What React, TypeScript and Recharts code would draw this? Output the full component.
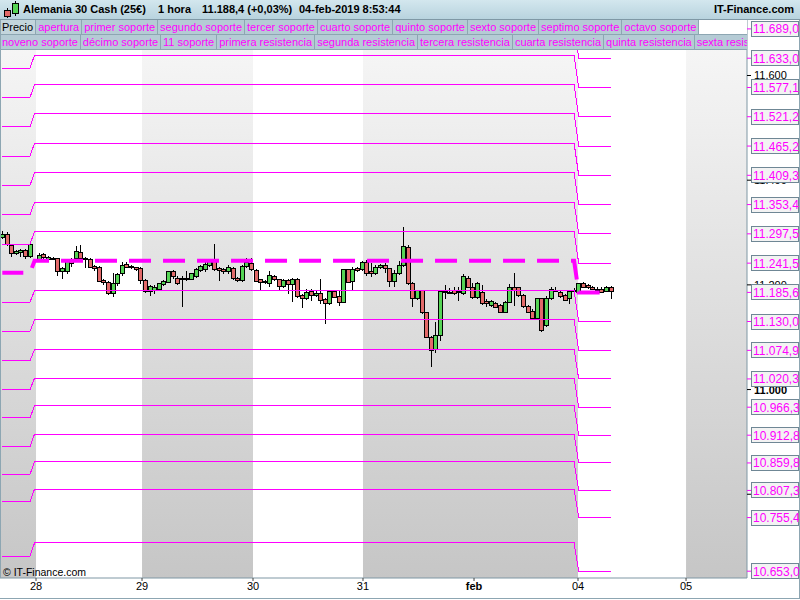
import React from 'react';
import { ComposedChart, Bar, Line, XAxis, YAxis, ReferenceArea } from 'recharts';

// ---- hourly candles (slot index = position on the time axis; slot 7 is the weekend gap)
const openP: (number | null)[] = [
  11291, 11298, 11277, 11260, 11263, 11266, 11255,
  null,
  11249, 11259, 11250, 11252, 11251, 11227, 11226, 11249, 11251, 11263,
  11252, 11249, 11236, 11235, 11209, 11206, 11185, 11204, 11222, 11239,
  11234, 11234, 11232, 11209, 11188, 11190, 11193, 11202, 11206, 11226,
  11214, 11214, 11211, 11212, 11217, 11228, 11230, 11238, 11246, 11232,
  11230, 11226, 11232, 11214, 11209, 11236, 11241, 11228, 11211, 11207,
  11204, 11217, 11211, 11198, 11209, 11201, 11212, 11181, 11174, 11188,
  11181, 11184, 11173, 11165, 11189, 11179, 11168, 11230, 11208, 11233,
  11230, 11244, 11226, 11222, 11234, 11237, 11232, 11208, 11222, 11238,
  11273, 11203, 11174, 11190, 11148, 11101, 11077, 11104, 11186, 11186,
  11190, 11188, 11184, 11214, 11196, 11176, 11187, 11170, 11162, 11165,
  11162, 11149, 11168, 11196, 11195, 11181, 11160, 11150, 11136, 11174,
  11123, 11174, 11191, 11187, 11181, 11174, 11189, 11187, 11203, 11200,
  11196, 11193, 11193, 11189, 11196,
];
const highP: (number | null)[] = [
  11302, 11301, 11279, 11267, 11269, 11268, 11280,
  null,
  11260, 11261, 11255, 11254, 11252, 11234, 11249, 11251, 11274, 11276,
  11253, 11251, 11237, 11236, 11211, 11207, 11223, 11223, 11244, 11244,
  11238, 11235, 11235, 11211, 11200, 11200, 11204, 11209, 11227, 11228,
  11216, 11216, 11226, 11223, 11232, 11238, 11247, 11249, 11278, 11234,
  11232, 11237, 11234, 11215, 11237, 11252, 11251, 11230, 11212, 11209,
  11227, 11218, 11212, 11211, 11211, 11214, 11214, 11182, 11192, 11193,
  11191, 11212, 11174, 11191, 11191, 11190, 11231, 11231, 11235, 11235,
  11245, 11247, 11241, 11237, 11239, 11241, 11233, 11228, 11246, 11310,
  11276, 11206, 11191, 11191, 11149, 11102, 11130, 11191, 11200, 11194,
  11195, 11196, 11221, 11216, 11203, 11206, 11200, 11173, 11171, 11167,
  11163, 11170, 11202, 11222, 11196, 11182, 11161, 11154, 11175, 11175,
  11179, 11196, 11195, 11189, 11183, 11191, 11194, 11204, 11205, 11202,
  11198, 11195, 11195, 11198, 11198,
];
const lowP: (number | null)[] = [
  11289, 11276, 11255, 11259, 11255, 11252, 11254,
  null,
  11247, 11251, 11249, 11249, 11219, 11214, 11222, 11236, 11249, 11249,
  11235, 11234, 11228, 11207, 11202, 11183, 11179, 11200, 11219, 11234,
  11232, 11228, 11203, 11186, 11181, 11184, 11192, 11200, 11205, 11213,
  11202, 11160, 11209, 11211, 11215, 11226, 11227, 11236, 11228, 11209,
  11223, 11223, 11211, 11207, 11207, 11234, 11228, 11207, 11190, 11203,
  11198, 11209, 11193, 11196, 11184, 11170, 11177, 11157, 11173, 11171,
  11179, 11165, 11128, 11163, 11176, 11162, 11167, 11205, 11193, 11226,
  11228, 11219, 11217, 11221, 11232, 11225, 11198, 11198, 11221, 11236,
  11202, 11160, 11173, 11146, 11100, 11045, 11072, 11095, 11174, 11184,
  11183, 11172, 11183, 11195, 11174, 11175, 11163, 11160, 11160, 11157,
  11148, 11148, 11167, 11162, 11179, 11158, 11148, 11135, 11135, 11112,
  11121, 11173, 11188, 11177, 11171, 11165, 11188, 11186, 11195, 11194,
  11192, 11192, 11186, 11188, 11174,
];
const closeP: (number | null)[] = [
  11298, 11278, 11260, 11265, 11267, 11255, 11279,
  null,
  11257, 11254, 11254, 11251, 11226, 11232, 11247, 11242, 11265, 11251,
  11249, 11235, 11232, 11208, 11205, 11185, 11204, 11221, 11238, 11235,
  11236, 11230, 11209, 11188, 11198, 11196, 11203, 11207, 11226, 11216,
  11203, 11211, 11214, 11222, 11230, 11236, 11239, 11246, 11230, 11228,
  11226, 11235, 11213, 11209, 11236, 11244, 11230, 11208, 11206, 11206,
  11219, 11211, 11198, 11209, 11201, 11212, 11179, 11175, 11187, 11180,
  11185, 11172, 11165, 11189, 11177, 11167, 11230, 11206, 11230, 11228,
  11244, 11223, 11222, 11235, 11237, 11232, 11208, 11222, 11238, 11274,
  11203, 11174, 11190, 11148, 11101, 11076, 11104, 11188, 11188, 11187,
  11185, 11186, 11216, 11196, 11176, 11204, 11165, 11165, 11169, 11158,
  11149, 11168, 11196, 11191, 11181, 11160, 11149, 11136, 11174, 11114,
  11174, 11193, 11189, 11179, 11172, 11189, 11191, 11203, 11196, 11195,
  11193, 11193, 11187, 11196, 11188.4,
];

// ---- weekly pivot levels (order: 9th..1st resistance, opening, supports)
const levelKeys = ['r9', 'r8', 'r7', 'r6', 'r5', 'r4', 'r3', 'r2', 'r1', 'ap', 's1', 's2', 's3', 's4', 's5', 's6', 's7', 's8', 's10'];
const weekLevels1 = [11726, 11670, 11614, 11558, 11502, 11446, 11390, 11334, 11278, 11223, 11167, 11111, 11055, 11000, 10946, 10891, 10838, 10786, 10682];
const weekLevels2 = [11752, 11695, 11639, 11583, 11527, 11471, 11414, 11358, 11302, 11246, 11189, 11133, 11077, 11022, 10969, 10915, 10862, 10810, 10707];
const weekLevels3 = [11689.0, 11633.0, 11577.1, 11521.2, 11465.2, 11409.3, 11353.4, 11297.5, 11241.5, 11185.6, 11130.0, 11074.9, 11020.3, 10966.3, 10912.8, 10859.8, 10807.3, 10755.4, 10653.0];
const weekStartSlots = [0, 7, 125];
const lastLevelSlot = 132;
const totalSlots = 162;

// ---- axes
const dayTickSlots = [7.31, 30.3, 54.37, 78.22, 102.3, 124.85, 148.28];
const dayLabels = ['28', '29', '30', '31', 'feb', '04', '05'];
const shadedSpans: [number, number][] = [[-0.5, 7.31], [30.3, 54.37], [78.22, 124.85], [148.28, 161.5]];
const priceTicks = [10800, 11000, 11200, 11400, 11600];
const yDomain = [10640, 11706];

const legendRow1 = ['Precio', 'apertura', 'primer soporte', 'segundo soporte', 'tercer soporte', 'cuarto soporte', 'quinto soporte', 'sexto soporte', 'septimo soporte', 'octavo soporte'];
const legendRow2 = ['noveno soporte', 'décimo soporte', '11 soporte', 'primera resistencia', 'segunda resistencia', 'tercera resistencia', 'cuarta resistencia', 'quinta resistencia', 'sexta resistencia', 'séptima resistencia'];

const MAG = '#ff00ff';
const GREEN = '#55d455';
const RED = '#e26a6a';
const BORDER = '#8da6b2';
const FONT = '"Liberation Sans", Arial, sans-serif';

const weeks = [weekLevels1, weekLevels2, weekLevels3];
const rows = Array.from({ length: totalSlots }, (_, s) => {
  const row: any = { slot: s };
  if (s < openP.length && openP[s] != null) {
    row.o = openP[s]; row.h = highP[s]; row.l = lowP[s]; row.c = closeP[s];
  }
  if (s <= lastLevelSlot) {
    let w = 0;
    weekStartSlots.forEach((st, k) => { if (s >= st) w = k; });
    levelKeys.forEach((key, i) => { row[key] = weeks[w][i]; });
  }
  return row;
});

const labelSet = new Set(weekLevels3);
const fmtLevel = (v: number) => {
  const [i, d] = v.toFixed(1).split('.');
  return i.replace(/\B(?=(\d{3})+(?!\d))/g, '.') + ',' + d;
};
const fmtPrice = (v: number) => String(v).replace(/\B(?=(\d{3})+(?!\d))/g, '.');

const Candle = (props: any) => {
  const { x, y, width, height, payload } = props;
  if (!payload || payload.h == null || x == null || y == null || isNaN(y)) return <g />;
  const top = Math.min(y, y + height);
  const bot = Math.max(y, y + height);
  const span = payload.h - payload.l;
  const py = (v: number) => (span > 0 ? top + ((payload.h - v) / span) * (bot - top) : top);
  const cx = Math.floor(x + width / 2) + 0.5;
  const up = payload.c >= payload.o;
  const bTop = Math.round(py(Math.max(payload.o, payload.c))) + 0.5;
  let bBot = Math.round(py(Math.min(payload.o, payload.c))) + 0.5;
  if (bBot - bTop < 1) bBot = bTop + 1;
  return (
    <g>
      <line x1={cx} x2={cx} y1={Math.round(top)} y2={Math.round(bot) + 1} stroke="#000" strokeWidth={1} />
      <rect x={cx - 2} y={bTop} width={4} height={bBot - bTop} fill={up ? GREEN : RED} stroke="#000" strokeWidth={1} />
    </g>
  );
};

const RightTick = (props: any) => {
  const { x, y, payload } = props;
  const v = payload.value;
  if (labelSet.has(v)) {
    const ry = Math.round(y) - 7.5;
    return (
      <g>
        <line x1={x} x2={x + 4} y1={y} y2={y} stroke={MAG} strokeWidth={1} />
        <rect x={x + 4.5} y={ry} width={47} height={15} fill="#f3f3f3" stroke="#6f8795" strokeWidth={1} />
        <text x={x + 6} y={y + 4.5} fontSize={12} fill={MAG} fontFamily={FONT}>{fmtLevel(v)}</text>
      </g>
    );
  }
  return (
    <g>
      <line x1={x} x2={x + 4} y1={y} y2={y} stroke="#000" strokeWidth={1} />
      <text x={x + 7} y={y + 4} fontSize={11} fill="#000" fontWeight={v === 11000 ? 'bold' : 'normal'} fontFamily={FONT}>{fmtPrice(v)}</text>
    </g>
  );
};

const DayTick = (props: any) => {
  const { x, y, payload, index } = props;
  let idx = dayTickSlots.indexOf(payload.value);
  if (idx < 0) idx = index;
  const label = dayLabels[idx] ?? '';
  return (
    <text x={x} y={y + 9} textAnchor="middle" fontSize={11} fill="#000" fontFamily={FONT} fontWeight={label === 'feb' ? 'bold' : 'normal'}>
      {label}
    </text>
  );
};

const legendItem = (txt: string, i: number, row: number) => (
  <div
    key={txt}
    style={{
      flex: 'none',
      padding: '0 2px',
      height: 14,
      lineHeight: '14px',
      fontSize: 11,
      color: row === 1 && i === 0 ? '#000' : MAG,
      background: row === 1 && i === 0 ? '#c3d5dc' : '#b5cbd5',
      borderRight: `1px solid ${BORDER}`,
      borderBottom: `1px solid ${BORDER}`,
      whiteSpace: 'nowrap',
    }}
  >
    {txt}
  </div>
);

export default function App() {
  return (
    <div style={{ position: 'absolute', left: 0, top: 0, width: 800, height: 600, background: '#fff', fontFamily: FONT, overflow: 'hidden' }}>
      <ComposedChart width={800} height={600} data={rows} margin={{ top: 20, right: 0, bottom: 0, left: 0 }}>
        <defs>
          <linearGradient id="bandGrad" x1="0" y1="0" x2="0" y2="1">
            <stop offset="0%" stopColor="#f8f8f8" />
            <stop offset="100%" stopColor="#c6c6c6" />
          </linearGradient>
        </defs>
        <XAxis
          xAxisId="num"
          dataKey="slot"
          type="number"
          domain={[-0.5, 161.5]}
          allowDataOverflow
          ticks={dayTickSlots}
          interval={0}
          height={22}
          tickSize={3}
          tickMargin={0}
          axisLine={{ stroke: '#7f97a4' }}
          tickLine={{ stroke: '#444' }}
          tick={<DayTick />}
        />
        <XAxis dataKey="slot" type="category" hide height={0} />
        <YAxis
          orientation="right"
          width={53}
          domain={yDomain}
          allowDataOverflow
          ticks={[...priceTicks, ...weekLevels3]}
          interval={0}
          tickSize={0}
          tickMargin={0}
          tickLine={false}
          axisLine={{ stroke: '#7f97a4' }}
          tick={<RightTick />}
        />
        {shadedSpans.map(([a, b]) => (
          <ReferenceArea key={a} xAxisId="num" x1={a} x2={b} fill="url(#bandGrad)" fillOpacity={1} stroke="none" ifOverflow="hidden" />
        ))}
        <Bar
          dataKey={(d: any) => (d.h == null ? null : [d.l, d.h])}
          shape={<Candle />}
          isAnimationActive={false}
        />
        {levelKeys.map((k) => (
          <Line
            key={k}
            dataKey={k}
            type="linear"
            stroke={MAG}
            strokeWidth={k === 'ap' ? 4 : 1}
            strokeDasharray={k === 'ap' ? '22 12' : undefined}
            strokeDashoffset={k === 'ap' ? 1 : undefined}
            shapeRendering={k === 'ap' ? undefined : 'crispEdges'}
            dot={false}
            activeDot={false}
            isAnimationActive={false}
          />
        ))}
      </ComposedChart>

      {/* title bar */}
      <div style={{ position: 'absolute', left: 0, top: 0, width: 800, height: 19, background: 'linear-gradient(#d3e7ee, #b8d3de)', borderBottom: `1px solid #7f98a5`, fontSize: 11, fontWeight: 'bold', color: '#000', lineHeight: '19px' }}>
        <svg width={18} height={19} style={{ position: 'absolute', left: 2, top: 0 }}>
          <line x1={5.5} x2={5.5} y1={8} y2={18} stroke="#000" />
          <rect x={2.5} y={10.5} width={6} height={6} fill={RED} stroke="#000" />
          <line x1={13.5} x2={13.5} y1={1} y2={16} stroke="#000" />
          <rect x={10.5} y={3.5} width={6} height={10} fill={GREEN} stroke="#000" />
        </svg>
        <span style={{ position: 'absolute', left: 23 }}>Alemania 30 Cash (25€)</span>
        <span style={{ position: 'absolute', left: 158 }}>1 hora</span>
        <span style={{ position: 'absolute', left: 202 }}>11.188,4 (+0,03%)</span>
        <span style={{ position: 'absolute', left: 299 }}>04-feb-2019 8:53:44</span>
        <span style={{ position: 'absolute', right: 6 }}>IT-Finance.com</span>
      </div>

      {/* legend rows */}
      <div style={{ position: 'absolute', left: 0, top: 20, width: 747, height: 15, display: 'flex', overflow: 'hidden' }}>
        {legendRow1.map((t, i) => legendItem(t, i, 1))}
        <div style={{ flex: 1, background: '#fff', borderBottom: `1px solid ${BORDER}` }} />
      </div>
      <div style={{ position: 'absolute', left: 0, top: 35, width: 747, height: 15, display: 'flex', overflow: 'hidden' }}>
        {legendRow2.map((t, i) => legendItem(t, i, 2))}
      </div>

      {/* frame */}
      <div style={{ position: 'absolute', left: 0, top: 20, width: 1, height: 558, background: BORDER }} />
      <div style={{ position: 'absolute', left: 0, top: 598, width: 800, height: 1, background: BORDER }} />
      <div style={{ position: 'absolute', left: 799, top: 20, width: 1, height: 579, background: BORDER }} />
      <div style={{ position: 'absolute', left: 3, top: 566, fontSize: 10.5, lineHeight: '12px', color: '#000' }}>© IT-Finance.com</div>
    </div>
  );
}
